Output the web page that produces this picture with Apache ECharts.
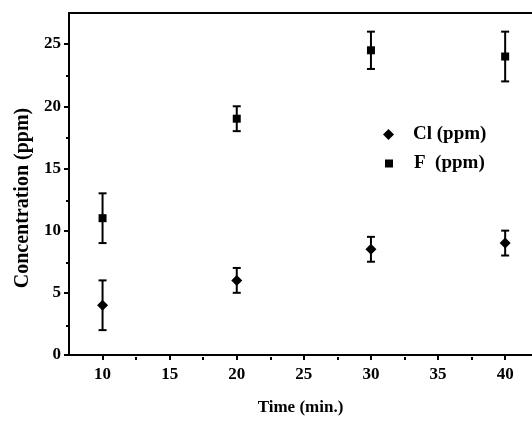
<!DOCTYPE html>
<html>
<head>
<meta charset="utf-8">
<script src="https://cdn.jsdelivr.net/npm/echarts@6/dist/echarts.min.js"></script>
<style>html,body{margin:0;padding:0;background:#fff}#c{width:532px;height:421px}</style>
</head>
<body>
<div id="c"></div>
<script>
const times = [10, 20, 30, 40];
const clValues = [4, 6, 8.5, 9];
const clErrors = [2, 1, 1, 1];
const fValues = [11, 19, 24.5, 24];
const fErrors = [2, 1, 1.5, 2];
const xTickValues = [10, 15, 20, 25, 30, 35, 40];
const xMinorTicks = [12.5, 17.5, 22.5, 27.5, 32.5, 37.5];
const yTickValues = [0, 5, 10, 15, 20, 25];
const yMinorTicks = [2.5, 7.5, 12.5, 17.5, 22.5];
const seriesNames = ['Cl (ppm)', 'F  (ppm)'];

const FONT = "'Liberation Serif', 'Times New Roman', serif";
const X_MIN = 7.5, X_MAX = 42, Y_MIN = 0, Y_MAX = 27.5;

function errData(vals, errs) {
  return times.map((t, i) => [t, vals[i] - errs[i], vals[i] + errs[i]]);
}
function errRender(params, api) {
  const x = api.value(0);
  const lo = api.coord([x, api.value(1)]);
  const hi = api.coord([x, api.value(2)]);
  const cap = 4;
  const style = { stroke: '#000', lineWidth: 2 };
  return {
    type: 'group',
    children: [
      { type: 'line', shape: { x1: lo[0], y1: lo[1], x2: hi[0], y2: hi[1] }, style },
      { type: 'line', shape: { x1: lo[0] - cap, y1: lo[1], x2: lo[0] + cap, y2: lo[1] }, style },
      { type: 'line', shape: { x1: hi[0] - cap, y1: hi[1], x2: hi[0] + cap, y2: hi[1] }, style }
    ]
  };
}

const gridBox = { left: 69, top: 13, bottom: 64, right: 0 };
const lineSt = { color: '#000', width: 2 };
const chart = echarts.init(document.getElementById('c'));
chart.setOption({
  animation: false,
  backgroundColor: '#fff',
  grid: [
    Object.assign({ show: false, containLabel: false }, gridBox),
    Object.assign({ show: false }, gridBox)
  ],
  legend: [
    {
      data: [seriesNames[0]], left: 378, top: 120, itemWidth: 11, itemHeight: 11,
      icon: 'diamond', itemStyle: { color: '#000', opacity: 1 },
      textStyle: { fontFamily: FONT, fontWeight: 'bold', fontSize: 19, color: '#000', padding: [0, 0, 0, 14] }
    },
    {
      data: [seriesNames[1]], left: 380, top: 149, itemWidth: 8, itemHeight: 8,
      icon: 'rect', itemStyle: { color: '#000', opacity: 1 },
      textStyle: { fontFamily: FONT, fontWeight: 'bold', fontSize: 19, color: '#000', padding: [0, 0, 0, 16] }
    }
  ],
  xAxis: [
    {
      type: 'value', gridIndex: 0, min: X_MIN, max: X_MAX,
      name: 'Time (min.)', nameLocation: 'middle', nameGap: 44,
      nameTextStyle: { fontFamily: FONT, fontWeight: 'bold', fontSize: 17, color: '#000' },
      axisLine: { show: true, onZero: false, lineStyle: lineSt },
      axisTick: { show: true, inside: false, length: 5, lineStyle: lineSt, customValues: xTickValues },
      axisLabel: { show: true, margin: 11, fontFamily: FONT, fontWeight: 'bold', fontSize: 17, color: '#000', customValues: xTickValues },
      splitLine: { show: false }
    },
    {
      type: 'value', gridIndex: 1, min: X_MIN, max: X_MAX, position: 'bottom',
      axisLine: { show: false },
      axisTick: { show: true, inside: false, length: 3, lineStyle: lineSt, customValues: xMinorTicks },
      axisLabel: { show: false },
      splitLine: { show: false }
    },
    {
      type: 'value', gridIndex: 1, min: X_MIN, max: X_MAX, position: 'top',
      axisLine: { show: true, onZero: false, lineStyle: lineSt },
      axisTick: { show: false },
      axisLabel: { show: false },
      splitLine: { show: false }
    }
  ],
  yAxis: [
    {
      type: 'value', gridIndex: 0, min: Y_MIN, max: Y_MAX,
      name: 'Concentration (ppm)', nameLocation: 'middle', nameGap: 36,
      nameTextStyle: { fontFamily: FONT, fontWeight: 'bold', fontSize: 20, color: '#000', padding: [0, 28, 0, 0] },
      axisLine: { show: true, onZero: false, lineStyle: lineSt },
      axisTick: { show: true, inside: false, length: 5, lineStyle: lineSt, customValues: yTickValues },
      axisLabel: { show: true, margin: 8, fontFamily: FONT, fontWeight: 'bold', fontSize: 17, color: '#000', customValues: yTickValues },
      splitLine: { show: false }
    },
    {
      type: 'value', gridIndex: 1, min: Y_MIN, max: Y_MAX,
      axisLine: { show: false },
      axisTick: { show: true, inside: false, length: 3, lineStyle: lineSt, customValues: yMinorTicks },
      axisLabel: { show: false },
      splitLine: { show: false }
    }
  ],
  series: [
    {
      type: 'custom', name: 'clErr', xAxisIndex: 0, yAxisIndex: 0,
      renderItem: errRender, data: errData(clValues, clErrors), encode: { x: 0, y: [1, 2] }, z: 2
    },
    {
      type: 'custom', name: 'fErr', xAxisIndex: 0, yAxisIndex: 0,
      renderItem: errRender, data: errData(fValues, fErrors), encode: { x: 0, y: [1, 2] }, z: 2
    },
    {
      type: 'scatter', name: seriesNames[0], xAxisIndex: 0, yAxisIndex: 0,
      symbol: 'diamond', symbolSize: 11, itemStyle: { color: '#000', opacity: 1 },
      data: times.map((t, i) => [t, clValues[i]]), z: 3
    },
    {
      type: 'scatter', name: seriesNames[1], xAxisIndex: 0, yAxisIndex: 0,
      symbol: 'rect', symbolSize: 8, itemStyle: { color: '#000', opacity: 1 },
      data: times.map((t, i) => [t, fValues[i]]), z: 3
    }
  ]
});
</script>
</body>
</html>
